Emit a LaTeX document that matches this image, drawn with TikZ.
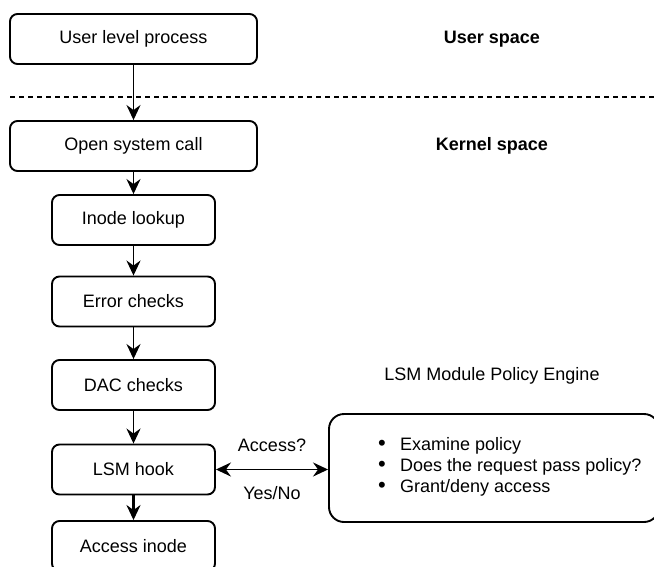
\documentclass[tikz,border=0pt]{standalone}
\usepackage{fontspec}
\setmainfont{Liberation Sans}
\usetikzlibrary{arrows.meta}
\newcommand{\itemdot}{\makebox[22pt][l]{\fontsize{22}{21}\selectfont•}}
\begin{document}
\begin{tikzpicture}[x=1pt,y=-1pt,
  every node/.style={font=\fontsize{18}{21}\selectfont, text=black},
  stepbox/.style={draw=black, line width=1.9pt, rounded corners=7.5pt,
    minimum height=50pt, inner sep=0pt},
  widebox/.style={stepbox, minimum width=247pt},
  narrowbox/.style={stepbox, minimum width=163pt},
  headtip/.tip={Stealth[length=15pt,width=14pt,inset=5pt]},
  flow/.style={line width=1.9pt, -headtip},
  heading/.style={font=\fontsize{18}{21}\selectfont\bfseries}]
\useasboundingbox (0,0) rectangle (654,566);

% user / kernel boundary
\draw[line width=1.5pt, dash pattern=on 5pt off 4pt] (10,97) -- (654,97);
\node[heading] (us) at (492,39) {User space};
\node[heading] (ks) at (492,146) {Kernel space};

% call path through the kernel
\node[widebox] (user) at (133.5,39) {User level process};
\node[widebox] (open) at (133.5,146) {Open system call};
\node[narrowbox] (inode) at (133.5,220) {Inode lookup};
\node[narrowbox] (err) at (133.5,301.5) {Error checks};
\node[narrowbox] (dac) at (133.5,385) {DAC checks};
\node[narrowbox] (lsm) at (133.5,469.5) {LSM hook};
\node[narrowbox] (acc) at (133.5,546) {Access inode};

\draw[flow] (user) -- (open);
\draw[flow] (open) -- (inode);
\draw[flow] (inode) -- (err);
\draw[flow] (err) -- (dac);
\draw[flow] (dac) -- (lsm);
\draw[flow, line width=3pt] (lsm) -- (acc);

% policy engine
\node (pe) at (492,376) {LSM Module Policy Engine};
\node[draw=black, line width=1.9pt, rounded corners=15pt, minimum width=330pt,
  minimum height=108pt, inner sep=0pt] (eng) at (494,468) {};
\node[anchor=west, align=left, inner sep=0pt] (items) at (378,467)
  {\itemdot Examine policy\\
   \itemdot Does the request pass policy?\\
   \itemdot Grant/deny access};

\draw[line width=1.9pt, headtip-headtip]
  (lsm.east) -- (lsm.east -| eng.west)
  node[midway, yshift=24pt] (ask) {Access?}
  node[midway, yshift=-24pt] (ans) {Yes/No};
\end{tikzpicture}
\end{document}
